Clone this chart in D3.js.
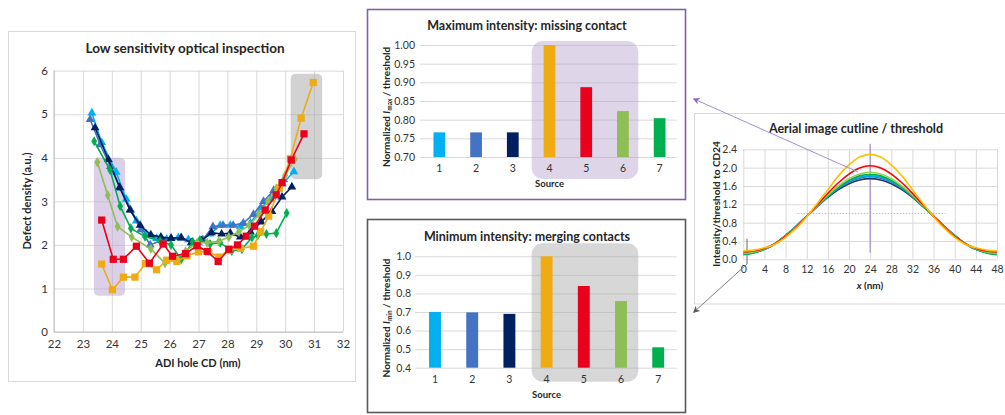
<!DOCTYPE html>
<html>
<head>
<meta charset="utf-8">
<script src="https://cdn.jsdelivr.net/npm/d3@7"></script>
<style>
  body { margin: 0; background: #fff; }
  text { font-family: Lato, "Liberation Sans", sans-serif; fill: #262626; }
  .grid line { stroke: #d9d9d9; }
  .grid path { display: none; }
  .tick-lbl text { font-size: 10.5px; fill: #333; }
  .tick-lbl path, .tick-lbl line { display: none; }
</style>
</head>
<body>
<svg id="fig" width="1005" height="415"></svg>
<script>
// ---- left panel: defect density vs ADI hole CD, one array per source ----
const src1Pts = [[23.31,5.03],[23.65,4.35],[24.15,3.67],[24.5,3.05],[24.85,2.55],[25.2,2.25],[25.55,2.15],[25.9,2.13],[26.3,2.17],[26.65,2.12],[27.0,2.05],[27.4,2.25],[27.75,2.45],[28.1,2.45],[28.45,2.42],[28.8,2.5],[29.15,2.85],[29.5,3.05],[29.9,3.4],[30.3,3.68]];
const src2Pts = [[23.25,4.88],[23.6,4.3],[23.95,3.8],[24.3,3.3],[24.65,2.8],[25.0,2.35],[25.33,2.0],[25.7,2.1],[26.05,2.15],[26.4,2.15],[26.8,2.05],[27.15,2.12],[27.5,2.42],[27.85,2.45],[28.2,2.45],[28.55,2.5],[28.9,2.7],[29.25,3.0],[29.6,3.25],[29.95,3.5]];
const src3Pts = [[23.42,4.69],[23.88,3.96],[24.27,3.32],[24.63,2.8],[24.98,2.45],[25.35,2.23],[25.7,2.18],[26.05,2.15],[26.4,2.17],[26.75,2.05],[27.1,2.1],[27.45,2.28],[27.8,2.25],[28.1,2.27],[28.45,2.18],[28.8,2.3],[29.17,2.53],[29.54,2.77],[29.89,3.1],[30.23,3.33]];
const src4Pts = [[23.65,1.56],[24.02,0.97],[24.4,1.26],[24.8,1.26],[25.17,1.57],[25.55,1.43],[25.9,1.65],[26.25,1.62],[26.6,1.75],[27.0,1.84],[27.35,1.84],[27.7,1.72],[28.05,1.88],[28.45,1.92],[28.9,1.97],[29.15,2.3],[29.43,2.66],[29.8,3.3],[30.18,3.98],[30.55,4.91],[30.97,5.73]];
const src5Pts = [[23.65,2.57],[24.05,1.67],[24.4,1.67],[24.85,1.97],[25.3,1.58],[25.78,2.02],[26.1,1.74],[26.55,1.8],[26.95,1.98],[27.3,1.85],[27.68,1.62],[28.05,1.9],[28.35,2.0],[28.65,2.2],[28.94,2.43],[29.31,2.8],[29.69,3.15],[29.89,3.43],[30.21,3.95],[30.65,4.55]];
const src6Pts = [[23.5,3.9],[23.86,3.14],[24.2,2.42],[24.69,2.18],[25.35,1.91],[25.84,1.58],[26.2,1.68],[26.55,1.85],[26.95,2.05],[27.3,2.05],[27.7,2.08],[28.05,2.18],[28.4,2.3],[28.75,2.45],[29.1,2.7],[29.4,3.0],[29.7,3.3],[30.0,3.6],[30.33,3.97]];
const src7Pts = [[23.39,4.38],[23.94,3.72],[24.29,2.89],[24.66,2.38],[25.15,2.19],[25.67,2.09],[26.05,2.0],[26.4,1.67],[26.8,2.07],[27.05,2.11],[27.4,2.02],[27.75,2.05],[28.15,1.86],[28.5,1.9],[28.85,2.17],[29.05,2.22],[29.35,2.25],[29.69,2.27],[30.05,2.73]];
const cdTicks = [22,23,24,25,26,27,28,29,30,31,32];
const densityTicks = [0,1,2,3,4,5,6];

// ---- middle panels: normalized intensity per source ----
const sources = ["1","2","3","4","5","6","7"];
const maxIntensity = [0.766, 0.766, 0.766, 1.0, 0.887, 0.823, 0.804];
const minIntensity = [0.70, 0.698, 0.69, 1.0, 0.84, 0.759, 0.51];
const maxTicks = [0.70,0.75,0.80,0.85,0.90,0.95,1.00];
const minTicks = [0.4,0.5,0.6,0.7,0.8,0.9,1.0];

// ---- right panel: aerial image cutline / threshold ----
const cutX = [0,2,4,6,8,10,12,14,16,18,20,22,24,26,28,30,32,34,36,38,40,42,44,46,48];
const cut1 = [0.12,0.15,0.22,0.34,0.52,0.72,0.94,1.16,1.38,1.56,1.70,1.79,1.82,1.79,1.70,1.56,1.38,1.16,0.94,0.72,0.52,0.34,0.22,0.15,0.12];
const cut2 = [0.12,0.15,0.22,0.34,0.52,0.72,0.94,1.16,1.37,1.55,1.68,1.77,1.80,1.77,1.68,1.55,1.37,1.16,0.94,0.72,0.52,0.34,0.22,0.15,0.12];
const cut3 = [0.12,0.15,0.22,0.34,0.52,0.72,0.94,1.15,1.35,1.52,1.65,1.73,1.76,1.73,1.65,1.52,1.35,1.15,0.94,0.72,0.52,0.34,0.22,0.15,0.12];
const cut4 = [0.18,0.20,0.25,0.33,0.48,0.68,0.93,1.22,1.52,1.82,2.06,2.23,2.29,2.23,2.06,1.82,1.52,1.22,0.93,0.68,0.48,0.33,0.25,0.20,0.18];
const cut5 = [0.16,0.18,0.24,0.34,0.50,0.70,0.94,1.19,1.44,1.67,1.86,1.99,2.04,1.99,1.86,1.67,1.44,1.19,0.94,0.70,0.50,0.34,0.24,0.18,0.16];
const cut6 = [0.13,0.16,0.23,0.34,0.51,0.71,0.94,1.17,1.40,1.60,1.76,1.86,1.90,1.86,1.76,1.60,1.40,1.17,0.94,0.71,0.51,0.34,0.23,0.16,0.13];
const cut7 = [0.10,0.14,0.22,0.34,0.51,0.72,0.94,1.16,1.38,1.57,1.72,1.82,1.85,1.82,1.72,1.57,1.38,1.16,0.94,0.72,0.51,0.34,0.22,0.14,0.10];
const cutXTicks = [0,4,8,12,16,20,24,28,32,36,40,44,48];
const cutYTicks = [0,0.4,0.8,1.2,1.6,2.0,2.4];

const srcColors = ["#00b0f0","#4472c4","#002060","#eeac12","#e8001c","#8fbd56","#00b050"];
const cutColors = ["#00b0f0","#4472c4","#1f3470","#ffc000","#ff0000","#92d050","#00b050"];

const svg = d3.select("#fig");

// ================= left panel =================
function leftPanel() {
  const g = svg.append("g");
  g.append("rect").attr("x", 8.5).attr("y", 31.5).attr("width", 347).attr("height", 350)
    .attr("fill", "#fff").attr("stroke", "#d9d9d9");

  const x = d3.scaleLinear().domain([22, 32]).range([54, 343]);
  const y = d3.scaleLinear().domain([0, 6]).range([332, 70.7]);

  g.append("g").attr("class", "grid").attr("transform", "translate(0,332)")
    .call(d3.axisBottom(x).tickValues(cdTicks).tickSize(-(332 - 70.7)).tickFormat(""));
  g.append("g").attr("class", "grid").attr("transform", "translate(54,0)")
    .call(d3.axisLeft(y).tickValues(densityTicks).tickSize(-(343 - 54)).tickFormat(""));
  g.append("line").attr("x1", 54).attr("x2", 343).attr("y1", 332).attr("y2", 332).attr("stroke", "#bfbfbf");
  g.append("line").attr("x1", 54).attr("x2", 54).attr("y1", 70.7).attr("y2", 332).attr("stroke", "#bfbfbf");

  g.append("g").attr("class", "tick-lbl").attr("transform", "translate(0,336)")
    .call(d3.axisBottom(x).tickValues(cdTicks).tickSize(0).tickPadding(4).tickFormat(d3.format("d")))
    .selectAll("text").style("font-size", "11.5px");
  g.append("g").attr("class", "tick-lbl").attr("transform", "translate(48,0)")
    .call(d3.axisLeft(y).tickValues(densityTicks).tickSize(0).tickPadding(0).tickFormat(d3.format("d")))
    .selectAll("text").style("font-size", "11.5px");

  // highlight boxes
  g.append("rect").attr("x", x(23.38)).attr("y", y(4.0))
    .attr("width", x(24.46) - x(23.38)).attr("height", y(0.83) - y(4.0))
    .attr("rx", 5).attr("fill", "#b7a1cf").attr("opacity", 0.5);
  g.append("rect").attr("x", x(30.19)).attr("y", y(5.93))
    .attr("width", x(31.28) - x(30.19)).attr("height", y(3.51) - y(5.93))
    .attr("rx", 5).attr("fill", "#a6a6a6").attr("opacity", 0.5);

  const seriesList = [src1Pts, src2Pts, src3Pts, src7Pts, src6Pts, src4Pts, src5Pts];
  const seriesIdx = [0, 1, 2, 6, 5, 3, 4];
  const shapes = [d3.symbolTriangle, d3.symbolTriangle, d3.symbolTriangle, d3.symbolSquare, d3.symbolSquare, d3.symbolDiamond, d3.symbolDiamond];
  const sizes = [34, 34, 34, 52, 52, 30, 30];
  const line = d3.line().x(d => x(d[0])).y(d => y(d[1]));

  seriesList.forEach((pts, k) => {
    const i = seriesIdx[k];
    const s = g.append("g");
    s.append("path").datum(pts).attr("d", line)
      .attr("fill", "none").attr("stroke", srcColors[i]).attr("stroke-width", 1.6);
    s.selectAll("path.pt").data(pts).enter().append("path").attr("class", "pt")
      .attr("transform", d => `translate(${x(d[0])},${y(d[1])})`)
      .attr("d", d3.symbol().type(shapes[i]).size(sizes[i]))
      .attr("fill", srcColors[i]);
  });

  g.append("text").attr("x", 185).attr("y", 53).attr("text-anchor", "middle")
    .style("font-size", "13.5px").style("font-weight", "bold").text("Low sensitivity optical inspection");
  g.append("text").attr("x", 198).attr("y", 367).attr("text-anchor", "middle")
    .style("font-size", "11px").style("font-weight", "bold").text("ADI hole CD (nm)");
  g.append("text").attr("transform", "translate(31,201) rotate(-90)").attr("text-anchor", "middle")
    .style("font-size", "11px").style("font-weight", "bold").text("Defect density (a.u.)");
}

// ================= bar panels =================
function barPanel(opt) {
  const g = svg.append("g");
  g.append("rect").attr("x", 367.5).attr("y", opt.frameTop).attr("width", 318).attr("height", opt.frameH)
    .attr("fill", "#fff").attr("stroke", opt.frameColor).attr("stroke-width", 1.6);

  const x = d3.scaleBand().domain(sources).range(opt.xRange).paddingInner(0.68).paddingOuter(0.34);
  const y = d3.scaleLinear().domain(opt.domain).range(opt.yRange);

  g.append("g").attr("class", "grid").attr("transform", `translate(${opt.gridLeft},0)`)
    .call(d3.axisLeft(y).tickValues(opt.ticks).tickSize(-(676.7 - opt.gridLeft)).tickFormat(""));

  const box = opt.box;
  g.append("rect").attr("x", box[0]).attr("y", box[1]).attr("width", box[2] - box[0]).attr("height", box[3] - box[1])
    .attr("rx", 11).attr("fill", opt.boxFill).attr("opacity", opt.boxOpacity);

  g.selectAll("rect.bar").data(opt.values).enter().append("rect").attr("class", "bar")
    .attr("x", (d, i) => x(sources[i]))
    .attr("width", x.bandwidth())
    .attr("y", d => y(d))
    .attr("height", d => y(opt.domain[0]) - y(d))
    .attr("fill", (d, i) => srcColors[i]);

  g.append("g").attr("class", "tick-lbl").attr("transform", `translate(0,${opt.yRange[0] + 4})`)
    .call(d3.axisBottom(x).tickSize(0).tickPadding(4));
  g.append("g").attr("class", "tick-lbl").attr("transform", `translate(${opt.labelRight},0)`)
    .call(d3.axisLeft(y).tickValues(opt.ticks).tickSize(0).tickPadding(0).tickFormat(d3.format(opt.fmt)));

  g.append("text").attr("x", 527).attr("y", opt.titleY).attr("text-anchor", "middle")
    .style("font-size", "12.5px").style("font-weight", "bold").text(opt.title);
  g.append("text").attr("x", (x.range()[0] + x.range()[1]) / 2).attr("y", opt.srcY).attr("text-anchor", "middle")
    .style("font-size", "9.5px").style("font-weight", "bold").text("Source");

  const yl = g.append("text").attr("transform", `translate(390,${opt.labelMid}) rotate(-90)`)
    .attr("text-anchor", "middle").style("font-size", "10px").style("font-weight", "bold");
  yl.append("tspan").text("Normalized ");
  yl.append("tspan").style("font-style", "italic").text("I");
  yl.append("tspan").attr("dy", 2).style("font-size", "6.5px").text(opt.sub);
  yl.append("tspan").attr("dy", -2).text(" / threshold");
}

// ================= right panel =================
function cutlinePanel() {
  const g = svg.append("g");
  g.append("rect").attr("x", 694.5).attr("y", 113.5).attr("width", 320).attr("height", 190.5)
    .attr("fill", "#fff").attr("stroke", "#d9d9d9");

  const x = d3.scaleLinear().domain([0, 48]).range([743.3, 997]);
  const y = d3.scaleLinear().domain([0, 2.4]).range([259.3, 149.3]);

  g.append("g").attr("class", "grid").attr("transform", "translate(0,259.3)")
    .call(d3.axisBottom(x).tickValues(cutXTicks).tickSize(-110).tickFormat(""));
  g.append("g").attr("class", "grid").attr("transform", "translate(743.3,0)")
    .call(d3.axisLeft(y).tickValues(cutYTicks).tickSize(-(997 - 743.3)).tickFormat(""));

  g.append("g").attr("class", "tick-lbl").attr("transform", "translate(0,262)")
    .call(d3.axisBottom(x).tickValues(cutXTicks).tickSize(0).tickPadding(4).tickFormat(d3.format("d")));
  g.append("g").attr("class", "tick-lbl").attr("transform", "translate(737,0)")
    .call(d3.axisLeft(y).tickValues(cutYTicks).tickSize(0).tickPadding(0).tickFormat(d3.format(".1f")));

  // threshold level and centre markers
  g.append("line").attr("x1", x(10.3)).attr("x2", x(38.3)).attr("y1", y(1.0)).attr("y2", y(1.0))
    .attr("stroke", "#9dc3e6").attr("stroke-dasharray", "1.5,1.5");
  g.append("line").attr("x1", x(24)).attr("x2", x(24)).attr("y1", y(2.52)).attr("y2", y(0.15))
    .attr("stroke", "#a08cc4").attr("stroke-width", 1.2);
  g.append("line").attr("x1", x(0.7)).attr("x2", x(0.7)).attr("y1", y(0.45)).attr("y2", 264)
    .attr("stroke", "#7f7f7f").attr("stroke-width", 1.2);

  const line = d3.line().x((d, i) => x(cutX[i])).y(d => y(d)).curve(d3.curveCatmullRom);
  const curves = [cut3, cut2, cut1, cut7, cut6, cut5, cut4];
  const order = [2, 1, 0, 6, 5, 4, 3];
  curves.forEach((c, k) => {
    g.append("path").datum(c).attr("d", line).attr("fill", "none")
      .attr("stroke", cutColors[order[k]]).attr("stroke-width", 1.6);
  });

  g.append("text").attr("x", 856).attr("y", 133).attr("text-anchor", "middle")
    .style("font-size", "12.5px").style("font-weight", "bold").text("Aerial image cutline / threshold");
  const xl = g.append("text").attr("x", 870).attr("y", 289).attr("text-anchor", "middle")
    .style("font-size", "10px").style("font-weight", "bold");
  xl.append("tspan").style("font-style", "italic").text("x");
  xl.append("tspan").text(" (nm)");
  g.append("text").attr("transform", "translate(720,204) rotate(-90)").attr("text-anchor", "middle")
    .style("font-size", "10px").style("font-weight", "bold").text("Intensity/threshold to CD24");
}

function arrows() {
  const defs = svg.append("defs");
  [["arrPurple", "#8a6cbf"], ["arrGray", "#595959"]].forEach(([id, c]) => {
    defs.append("marker").attr("id", id).attr("viewBox", "0 0 10 10").attr("refX", 8).attr("refY", 5)
      .attr("markerWidth", 7).attr("markerHeight", 7).attr("orient", "auto-start-reverse")
      .append("path").attr("d", "M0,0 L10,5 L0,10 L3,5 Z").attr("fill", c);
  });
  svg.append("line").attr("x1", 858).attr("y1", 172).attr("x2", 694).attr("y2", 99)
    .attr("stroke", "#a48fd0").attr("stroke-width", 1).attr("marker-end", "url(#arrPurple)");
  svg.append("line").attr("x1", 747).attr("y1", 264).attr("x2", 694).attr("y2", 312)
    .attr("stroke", "#7f7f7f").attr("stroke-width", 1).attr("marker-end", "url(#arrGray)");
}

leftPanel();
barPanel({
  frameTop: 9.5, frameH: 190, frameColor: "#8064a2",
  xRange: [421, 678], domain: [0.70, 1.00], yRange: [157, 45], ticks: maxTicks, fmt: ".2f",
  gridLeft: 420, labelRight: 415, values: maxIntensity,
  box: [531.7, 41, 638.3, 179], boxFill: "#b7a1cf", boxOpacity: 0.45,
  title: "Maximum intensity: missing contact", titleY: 30, srcY: 187, labelMid: 107, sub: "max"
});
barPanel({
  frameTop: 219.5, frameH: 193, frameColor: "#595959",
  xRange: [416.4, 676.8], domain: [0.4, 1.0], yRange: [367.7, 256.3], ticks: minTicks, fmt: ".1f",
  gridLeft: 415, labelRight: 411, values: minIntensity,
  box: [531.7, 243.3, 638.3, 381.7], boxFill: "#a6a6a6", boxOpacity: 0.45,
  title: "Minimum intensity: merging contacts", titleY: 241, srcY: 398, labelMid: 318, sub: "min"
});
cutlinePanel();
arrows();
</script>
</body>
</html>
